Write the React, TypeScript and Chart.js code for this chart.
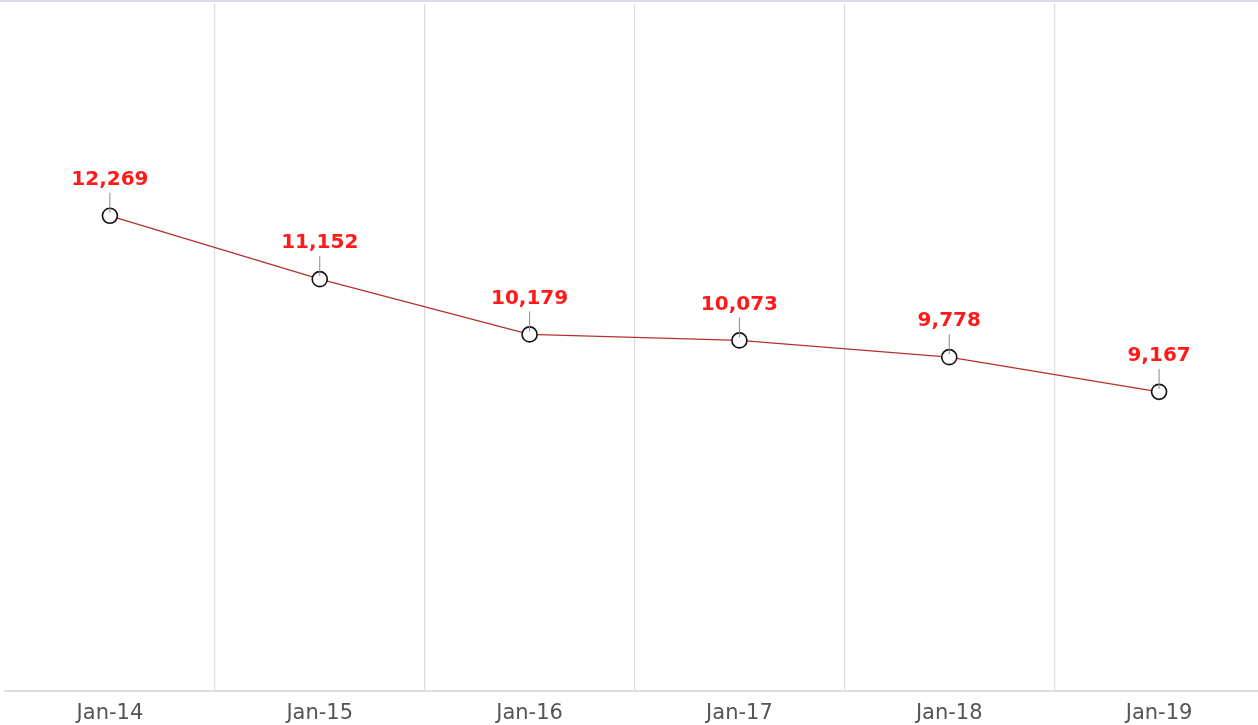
import React, { useEffect, useRef } from "react";
import { Chart, registerables } from "chart.js";

Chart.register(...registerables);

const categories = ["Jan-14", "Jan-15", "Jan-16", "Jan-17", "Jan-18", "Jan-19"];
const values = [12269, 11152, 10179, 10073, 9778, 9167];
const yMin = 3900;
const yMax = 16000;

const labelPlugin = {
  id: "pointLabels",
  afterDatasetsDraw(chart: any) {
    const ctx = chart.ctx;
    const meta = chart.getDatasetMeta(0);
    ctx.save();
    meta.data.forEach((pt: any, i: number) => {
      const x = pt.x;
      const y = pt.y;
      const text = values[i].toLocaleString("en-US");
      const labelY = y - 36;
      ctx.strokeStyle = "#8a8a8a";
      ctx.lineWidth = 1;
      ctx.beginPath();
      ctx.moveTo(x, labelY + 13);
      ctx.lineTo(x, y - 3);
      ctx.stroke();
      ctx.font = "bold 20px 'DejaVu Sans'";
      ctx.fillStyle = "#ff1a1a";
      ctx.textAlign = "center";
      ctx.textBaseline = "middle";
      ctx.fillText(text, x, labelY);
    });
    ctx.restore();
  },
};

export default function App() {
  const ref = useRef<HTMLCanvasElement>(null);
  useEffect(() => {
    if (!ref.current) return;
    const chart = new Chart(ref.current, {
      type: "line",
      data: {
        labels: categories,
        datasets: [
          {
            data: values,
            borderColor: "#b5302c",
            borderWidth: 1.3,
            pointRadius: 7.5,
            pointBorderWidth: 1.6,
            pointBorderColor: "#111",
            pointBackgroundColor: "#fff",
            tension: 0,
            clip: false,
          },
        ],
      },
      options: {
        animation: false,
        responsive: false,
        maintainAspectRatio: false,
        layout: { autoPadding: false, padding: { left: 5, right: 6, top: 4, bottom: 0 } },
        plugins: { legend: { display: false }, tooltip: { enabled: false } },
        scales: {
          x: {
            offset: true,
            grid: {
              offset: true,
              drawTicks: false,
              color: (c: any) => (c.index === 0 ? "rgba(0,0,0,0)" : "#dcdcdc"),
              lineWidth: 1.2,
            },
            border: { display: true, color: "#dedede", width: 2 },
            ticks: {
              color: "#555555",
              padding: 10,
              font: { family: "'DejaVu Sans'", size: 21 },
            },
          },
          y: {
            display: false,
            min: yMin,
            max: yMax,
          },
        },
      },
      plugins: [labelPlugin],
    });
    return () => chart.destroy();
  }, []);
  return (
    <div style={{ position: "absolute", left: 0, top: 0, width: 1258, height: 725, overflow: "hidden", background: "#fff" }}>
      <div style={{ position: "absolute", left: 0, top: 0, width: 1258, height: 2, background: "#dddcec" }} />
      <canvas ref={ref} width={1270} height={736} style={{ display: "block" }} />
    </div>
  );
}
